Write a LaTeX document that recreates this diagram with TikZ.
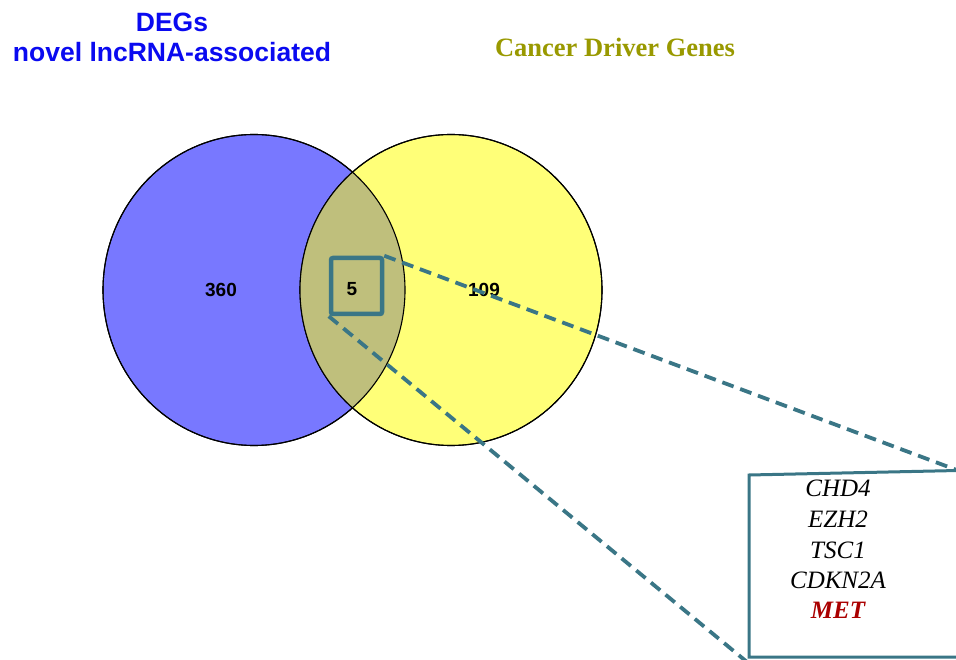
\documentclass[tikz,border=0pt]{standalone}
\usepackage{fontspec}
\setmainfont{Liberation Serif}
\newfontfamily\arialf{Liberation Sans}
\usetikzlibrary{shapes.geometric}
\definecolor{leftfill}{RGB}{120,120,255}
\definecolor{rightfill}{RGB}{255,255,120}
\definecolor{midfill}{RGB}{191,191,124}
\definecolor{tealc}{RGB}{58,118,134}
\definecolor{titleblue}{RGB}{10,10,240}
\definecolor{olivec}{RGB}{153,153,0}
\definecolor{metred}{RGB}{170,0,0}
\tikzset{
  venn/.style={ellipse, draw=black, line width=1.1pt, minimum width=302pt, minimum height=311pt, inner sep=0pt},
  numlbl/.style={font=\arialf\bfseries\fontsize{19}{22}\selectfont, anchor=base, inner sep=0pt},
  zoomline/.style={draw=tealc, line width=3.8pt, dash pattern=on 12pt off 7pt},
  gene/.style={font=\itshape\fontsize{25}{30}\selectfont, anchor=base, inner sep=0pt},
}
\begin{document}
\begin{tikzpicture}[x=1pt,y=-1pt]
\useasboundingbox (0,0) rectangle (956,660);
\clip (0,0) rectangle (956,660);
% circles
\node[venn, fill=leftfill] (L) at (254,290) {};
\node[venn, fill=rightfill] (R) at (451,290) {};
\begin{scope}
  \clip (254,290) ellipse [x radius=151pt, y radius=155.5pt];
  \fill[midfill] (451,290) ellipse [x radius=151pt, y radius=155.5pt];
\end{scope}
\draw[black, line width=1.1pt] (254,290) ellipse [x radius=151pt, y radius=155.5pt];
\draw[black, line width=1.1pt] (451,290) ellipse [x radius=151pt, y radius=155.5pt];
% numbers
\node[numlbl] (n360) at (221,296.7) {360};
\node[numlbl] (n109) at (484,296.7) {109};
% small box
\node[draw=tealc, line width=4.5pt, rounded corners=2pt, minimum width=51pt, minimum height=56pt, inner sep=0pt] (sbox) at (356.5,286) {};
\node[numlbl] (n5) at (352,296) {5};
% big box corners
\coordinate (btr) at (958,470.5);
\coordinate (btl) at (749,475);
\coordinate (bbl) at (749,657);
\coordinate (bbr) at (958,657);
\coordinate (lowend) at (747,662);
% dashed connectors
\draw[zoomline] (sbox.north east) -- (btr);
\draw[zoomline] (sbox.south west) -- (lowend);
% big box
\draw[tealc, line width=3pt] (btr) -- (btl) -- (bbl) -- (bbr);
% gene names
\node[gene] (g1) at (838,496.7) {CHD4};
\node[gene] (g2) at (838,527) {EZH2};
\node[gene] (g3) at (838,558) {TSC1};
\node[gene] (g4) at (838,588) {CDKN2A};
\node[gene, font=\bfseries\itshape\fontsize{25}{30}\selectfont, text=metred] (g5) at (838,618) {MET};
% titles
\node[font=\arialf\bfseries\fontsize{26.5}{30}\selectfont, text=titleblue, anchor=base, inner sep=0pt] (t1) at (172,31.7) {DEGs};
\node[font=\arialf\bfseries\fontsize{26.5}{30}\selectfont, text=titleblue, anchor=base, inner sep=0pt] (t2) at (172,61.7) {novel lncRNA-associated};
\node[font=\bfseries\fontsize{26.5}{30}\selectfont, text=olivec, anchor=base, inner sep=0pt] (t3) at (615,57) {Cancer Driver Genes};
\end{tikzpicture}
\end{document}
